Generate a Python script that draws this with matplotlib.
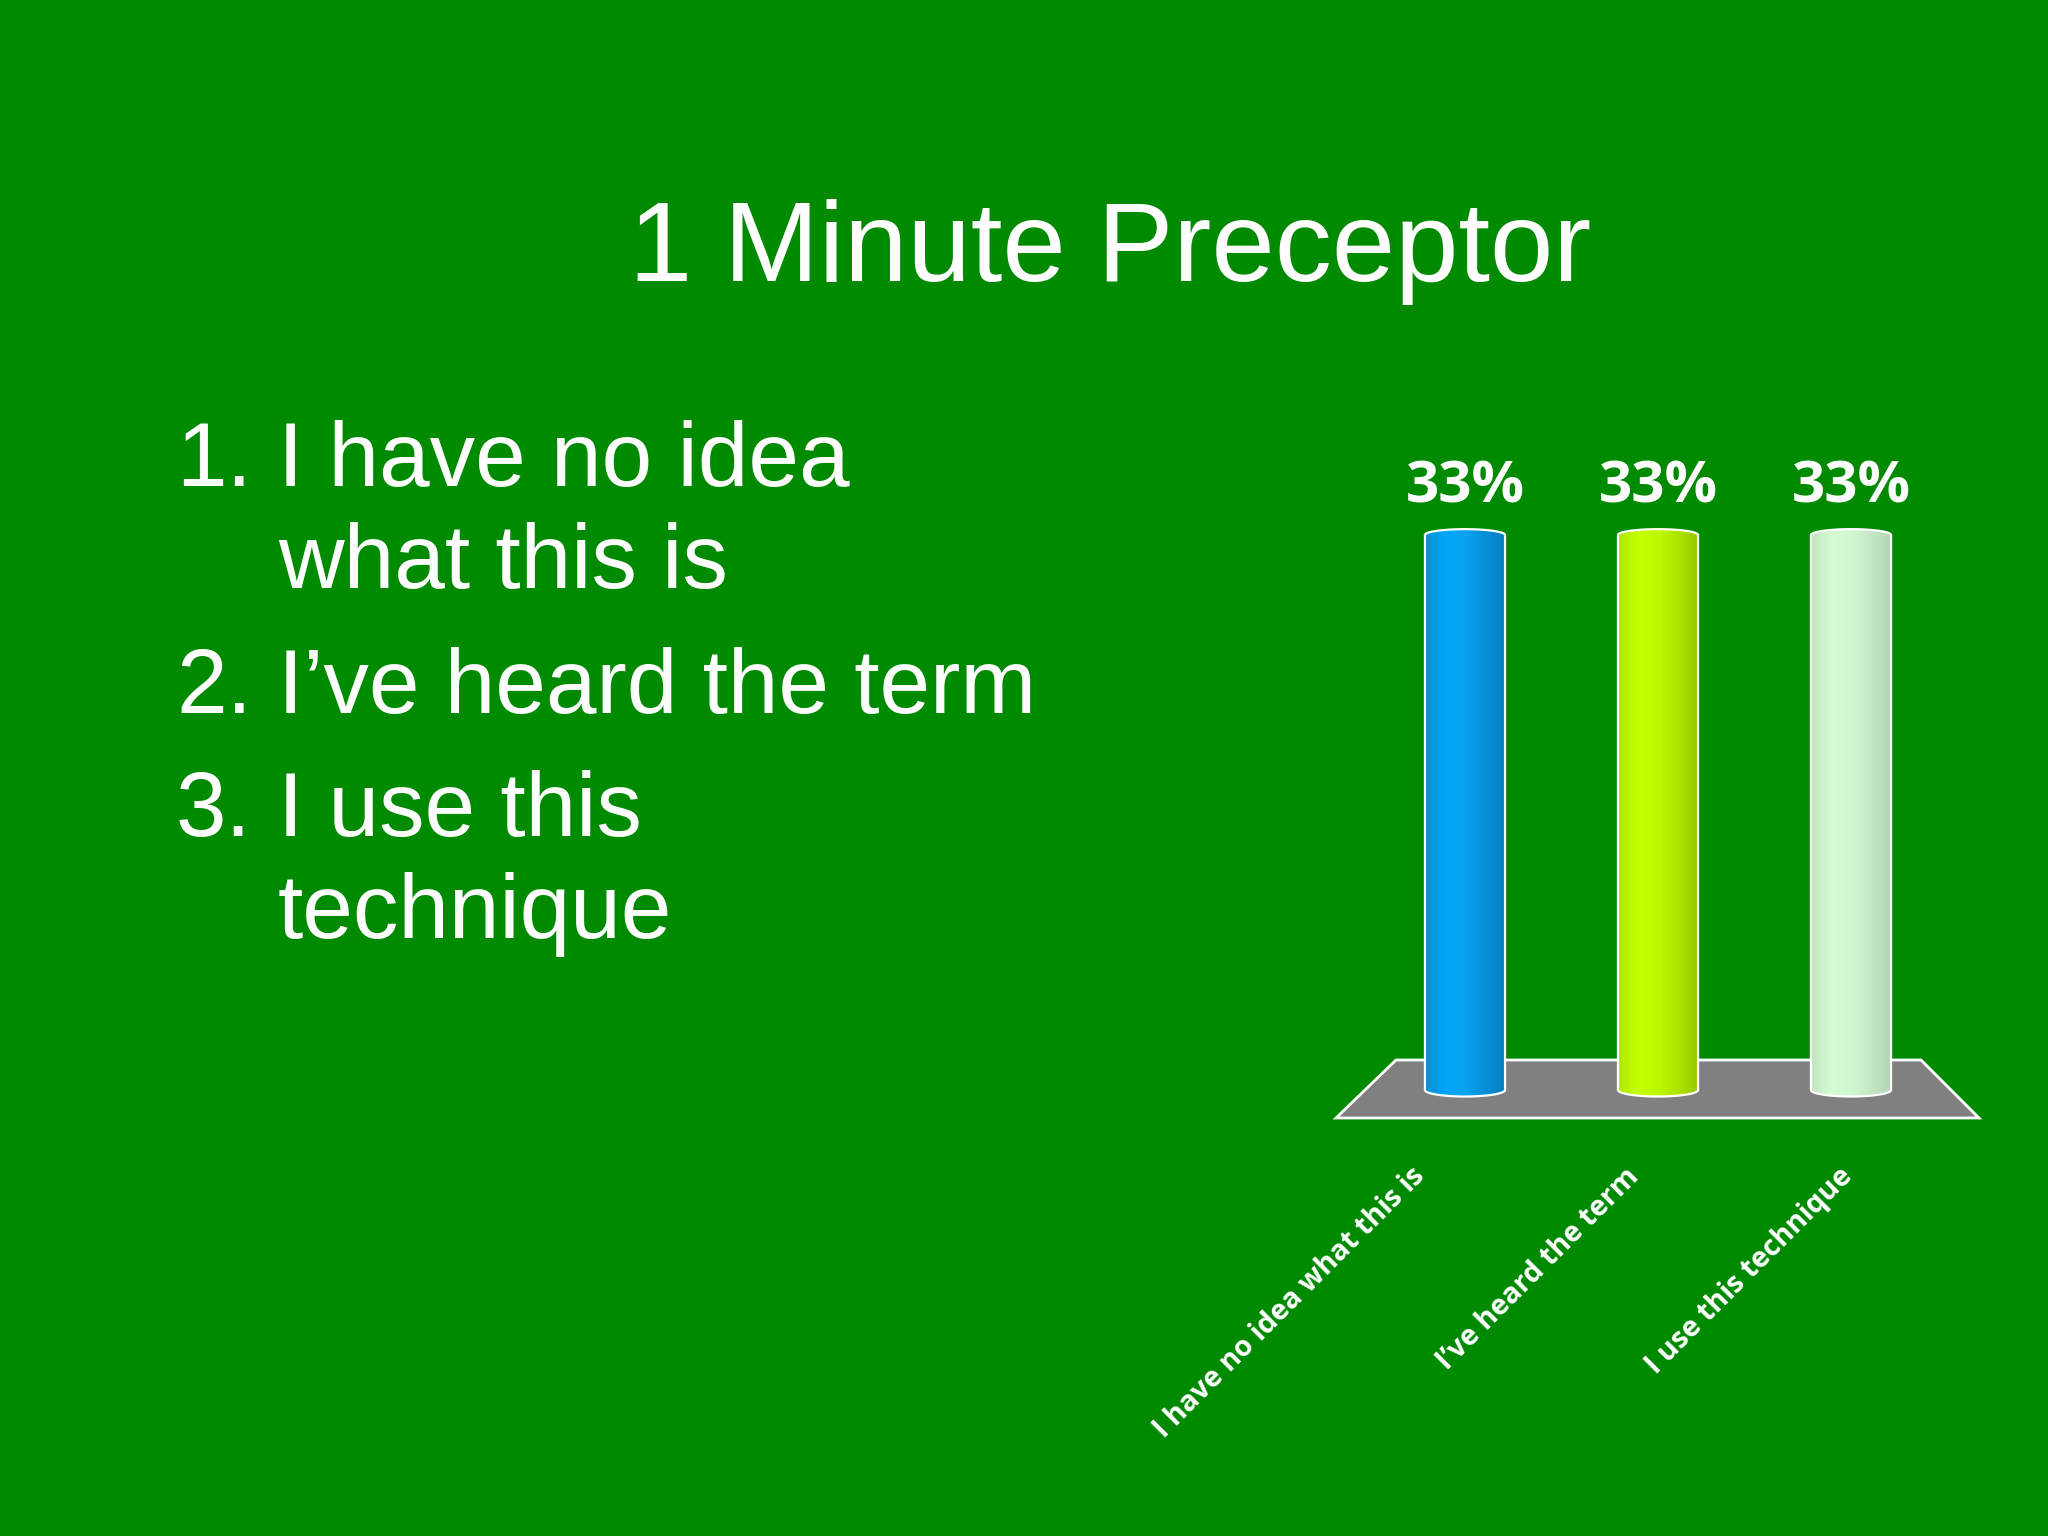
import numpy as np
import matplotlib
matplotlib.use("Agg")
import matplotlib.pyplot as plt
from matplotlib.patches import Polygon, PathPatch
from matplotlib.path import Path
from matplotlib.colors import LinearSegmentedColormap

# ---------------- data ----------------
title = "1 Minute Preceptor"
bullet_numbers = ["1.", "", "2.", "3.", ""]
bullet_lines = ["I have no idea", "what this is", "I\u2019ve heard the term", "I use this", "technique"]
categories = ["I have no idea what this is", "I\u2019ve heard the term", "I use this technique"]
values = [33, 33, 33]
value_labels = ["33%", "33%", "33%"]
bar_gradients = [
    ["#0a8fd8", "#00a6f6", "#0aa2f0", "#0590d8", "#0a7cbc"],
    ["#b0e800", "#c4ff00", "#bef800", "#aee400", "#96c800"],
    ["#bfe3bf", "#d6fcd6", "#d2f8d2", "#c4e8c4", "#b2d6b2"],
]

BG = "#008a00"
W, H = 2048, 1536


def fx(x):
    return x / W


def fy(y):
    return 1 - y / H


fig = plt.figure(figsize=(20.48, 15.36), dpi=100, facecolor=BG)

# ---------------- text part ----------------
fig.text(fx(1110), fy(281), title, color="white", fontsize=82,
         family="Liberation Sans", ha="center", va="baseline")

baselines = [486, 588, 713, 836, 938]
for num, line, b in zip(bullet_numbers, bullet_lines, baselines):
    if num:
        fig.text(fx(176), fy(b), num, color="white", fontsize=65.5,
                 family="Liberation Sans", ha="left", va="baseline")
    fig.text(fx(278), fy(b), line, color="white", fontsize=65.5,
             family="Liberation Sans", ha="left", va="baseline")

# ---------------- chart ----------------
px_per_unit = (1090 - 535) / 33.0
ymin, ymax = -3, 40
ax_left, ax_right = 1368.5, 1947.5
zero_px = 1090
ax_bottom_px = zero_px - ymin * px_per_unit
ax_top_px = zero_px - ymax * px_per_unit
ax = fig.add_axes([fx(ax_left), fy(ax_bottom_px), (ax_right - ax_left) / W,
                   (ax_bottom_px - ax_top_px) / H])
ax.set_facecolor("none")
ax.axis("off")

xpos = np.arange(len(categories))
rects = ax.bar(xpos, values, width=0.415, color="none", edgecolor="none", zorder=2)

# floor
floor = Polygon([(fx(1396), fy(1060)), (fx(1921), fy(1060)), (fx(1979), fy(1118)),
                 (fx(1336), fy(1118))], closed=True, transform=fig.transFigure,
                facecolor="#808080", edgecolor="white", lw=2, zorder=0.5, clip_on=False)
ax.add_patch(floor)

eh = 6.5 / px_per_unit  # half height of ellipse caps in data units
grad = np.linspace(0, 1, 256).reshape(1, -1)
for rect, cols, lab in zip(rects, bar_gradients, value_labels):
    x0 = rect.get_x()
    w = rect.get_width()
    h = rect.get_height()
    xc = x0 + w / 2
    t = np.linspace(np.pi, 2 * np.pi, 60)
    bottom = np.column_stack([xc + w / 2 * np.cos(t), 0 + eh * np.sin(t)])
    t2 = np.linspace(0, np.pi, 60)
    top = np.column_stack([xc + w / 2 * np.cos(t2), h + eh * 0.9 * np.sin(t2)])
    pts = np.vstack([bottom, top, bottom[:1]])
    path = Path(pts)
    patch = PathPatch(path, facecolor="none", edgecolor="white", lw=1.6, zorder=4)
    ax.add_patch(patch)
    cmap = LinearSegmentedColormap.from_list("c", cols)
    im = ax.imshow(grad, cmap=cmap, aspect="auto", extent=(x0, x0 + w, -eh * 1.2, h + eh * 1.2),
                   zorder=3, interpolation="bilinear")
    im.set_clip_path(patch)
    ax.annotate(lab, xy=(xc, h), xytext=(0, 33 * 72 / 100), textcoords="offset points",
                ha="center", va="baseline", color="white", fontsize=42,
                fontweight="bold", family="Open Sans")

ax.set_xlim(-0.5, len(categories) - 0.5)
ax.set_ylim(ymin, ymax)

# rotated category labels
label_end_x = [1410, 1624, 1838]
for cat, ex in zip(categories, label_end_x):
    fig.text(fx(ex), fy(1162), cat, color="white", fontsize=20.6, fontweight="bold",
             family="Open Sans", rotation=45, rotation_mode="anchor",
             ha="right", va="top")

fig.savefig("out.png", dpi=100, facecolor=BG)
